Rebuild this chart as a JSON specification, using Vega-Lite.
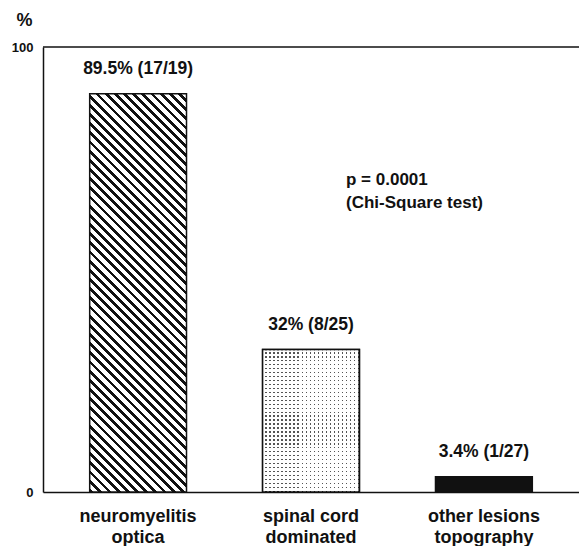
{
  "$schema": "https://vega.github.io/schema/vega-lite/v6.json",
  "width": 536,
  "height": 445,
  "autosize": "none",
  "padding": {"left": 43, "top": 47, "right": 0, "bottom": 54},
  "background": "white",
  "config": {"view": {"stroke": null}, "font": "Liberation Sans"},
  "data": {"values": [
    {"group": "neuromyelitis optica", "pct": 89.5, "label": "89.5% (17/19)"},
    {"group": "spinal cord dominated", "pct": 32, "label": "32% (8/25)"},
    {"group": "other lesions topography", "pct": 3.4, "label": "3.4% (1/27)"}
  ]},
  "layer": [
    {
      "transform": [{"filter": "datum.group === 'other lesions topography'"}],
      "mark": {"type": "bar", "stroke": "#111", "strokeWidth": 1.5, "fill": "#111"},
      "encoding": {
        "x": {"field": "group", "type": "nominal", "sort": ["neuromyelitis optica", "spinal cord dominated", "other lesions topography"],
          "scale": {"domain": ["neuromyelitis optica", "spinal cord dominated", "other lesions topography"], "paddingInner": 0.44, "paddingOuter": 0.27},
          "axis": {"title": null, "labelAngle": 0, "ticks": false, "domainColor": "#111", "domainWidth": 1.5,
            "labelFontSize": 18, "labelFontWeight": "bold", "labelColor": "#111", "labelPadding": 15, "labelLineHeight": 21, "labelLimit": 0,
            "labelExpr": "[substring(datum.label, 0, lastindexof(datum.label, ' ')), substring(datum.label, lastindexof(datum.label, ' ') + 1)]"}},
        "y": {"field": "pct", "type": "quantitative", "scale": {"domain": [0, 100], "nice": false},
          "axis": {"values": [0, 100], "title": "%", "titleAngle": 0, "titleX": -19, "titleY": -27, "titleAlign": "center", "titleBaseline": "middle",
            "titleFontSize": 18, "titleFontWeight": "bold", "titleColor": "#111", "ticks": false, "grid": false,
            "labelFontSize": 13, "labelFontWeight": "bold", "labelColor": "#111", "labelPadding": 10, "domainColor": "#111", "domainWidth": 1.5}}
      }
    },
    {
      "transform": [{"filter": "datum.group === 'spinal cord dominated'"}],
      "mark": {"type": "bar", "stroke": "#111", "strokeWidth": 1.5,
        "fill": {"gradient": "linear", "x1": 0, "y1": 0, "x2": 0, "y2": 1, "stops": [
          {"offset": 0, "color": "#fff"}, {"offset": 0.0181, "color": "#fff"}, {"offset": 0.0181, "color": "#555"}, {"offset": 0.0278, "color": "#555"},
          {"offset": 0.0278, "color": "#fff"}, {"offset": 0.0458, "color": "#fff"}, {"offset": 0.0458, "color": "#555"}, {"offset": 0.0556, "color": "#555"},
          {"offset": 0.0556, "color": "#fff"}, {"offset": 0.0736, "color": "#fff"}, {"offset": 0.0736, "color": "#555"}, {"offset": 0.0833, "color": "#555"},
          {"offset": 0.0833, "color": "#fff"}, {"offset": 0.1014, "color": "#fff"}, {"offset": 0.1014, "color": "#555"}, {"offset": 0.1111, "color": "#555"},
          {"offset": 0.1111, "color": "#fff"}, {"offset": 0.1292, "color": "#fff"}, {"offset": 0.1292, "color": "#555"}, {"offset": 0.1389, "color": "#555"},
          {"offset": 0.1389, "color": "#fff"}, {"offset": 0.1569, "color": "#fff"}, {"offset": 0.1569, "color": "#555"}, {"offset": 0.1667, "color": "#555"},
          {"offset": 0.1667, "color": "#fff"}, {"offset": 0.1847, "color": "#fff"}, {"offset": 0.1847, "color": "#555"}, {"offset": 0.1944, "color": "#555"},
          {"offset": 0.1944, "color": "#fff"}, {"offset": 0.2125, "color": "#fff"}, {"offset": 0.2125, "color": "#555"}, {"offset": 0.2222, "color": "#555"},
          {"offset": 0.2222, "color": "#fff"}, {"offset": 0.2403, "color": "#fff"}, {"offset": 0.2403, "color": "#555"}, {"offset": 0.2500, "color": "#555"},
          {"offset": 0.2500, "color": "#fff"}, {"offset": 0.2681, "color": "#fff"}, {"offset": 0.2681, "color": "#555"}, {"offset": 0.2778, "color": "#555"},
          {"offset": 0.2778, "color": "#fff"}, {"offset": 0.2958, "color": "#fff"}, {"offset": 0.2958, "color": "#555"}, {"offset": 0.3056, "color": "#555"},
          {"offset": 0.3056, "color": "#fff"}, {"offset": 0.3236, "color": "#fff"}, {"offset": 0.3236, "color": "#555"}, {"offset": 0.3333, "color": "#555"},
          {"offset": 0.3333, "color": "#fff"}, {"offset": 0.3514, "color": "#fff"}, {"offset": 0.3514, "color": "#555"}, {"offset": 0.3611, "color": "#555"},
          {"offset": 0.3611, "color": "#fff"}, {"offset": 0.3792, "color": "#fff"}, {"offset": 0.3792, "color": "#555"}, {"offset": 0.3889, "color": "#555"},
          {"offset": 0.3889, "color": "#fff"}, {"offset": 0.4069, "color": "#fff"}, {"offset": 0.4069, "color": "#555"}, {"offset": 0.4167, "color": "#555"},
          {"offset": 0.4167, "color": "#fff"}, {"offset": 0.4347, "color": "#fff"}, {"offset": 0.4347, "color": "#555"}, {"offset": 0.4444, "color": "#555"},
          {"offset": 0.4444, "color": "#fff"}, {"offset": 0.4625, "color": "#fff"}, {"offset": 0.4625, "color": "#555"}, {"offset": 0.4722, "color": "#555"},
          {"offset": 0.4722, "color": "#fff"}, {"offset": 0.4903, "color": "#fff"}, {"offset": 0.4903, "color": "#555"}, {"offset": 0.5000, "color": "#555"},
          {"offset": 0.5000, "color": "#fff"}, {"offset": 0.5181, "color": "#fff"}, {"offset": 0.5181, "color": "#555"}, {"offset": 0.5278, "color": "#555"},
          {"offset": 0.5278, "color": "#fff"}, {"offset": 0.5458, "color": "#fff"}, {"offset": 0.5458, "color": "#555"}, {"offset": 0.5556, "color": "#555"},
          {"offset": 0.5556, "color": "#fff"}, {"offset": 0.5736, "color": "#fff"}, {"offset": 0.5736, "color": "#555"}, {"offset": 0.5833, "color": "#555"},
          {"offset": 0.5833, "color": "#fff"}, {"offset": 0.6014, "color": "#fff"}, {"offset": 0.6014, "color": "#555"}, {"offset": 0.6111, "color": "#555"},
          {"offset": 0.6111, "color": "#fff"}, {"offset": 0.6292, "color": "#fff"}, {"offset": 0.6292, "color": "#555"}, {"offset": 0.6389, "color": "#555"},
          {"offset": 0.6389, "color": "#fff"}, {"offset": 0.6569, "color": "#fff"}, {"offset": 0.6569, "color": "#555"}, {"offset": 0.6667, "color": "#555"},
          {"offset": 0.6667, "color": "#fff"}, {"offset": 0.6847, "color": "#fff"}, {"offset": 0.6847, "color": "#555"}, {"offset": 0.6944, "color": "#555"},
          {"offset": 0.6944, "color": "#fff"}, {"offset": 0.7125, "color": "#fff"}, {"offset": 0.7125, "color": "#555"}, {"offset": 0.7222, "color": "#555"},
          {"offset": 0.7222, "color": "#fff"}, {"offset": 0.7403, "color": "#fff"}, {"offset": 0.7403, "color": "#555"}, {"offset": 0.7500, "color": "#555"},
          {"offset": 0.7500, "color": "#fff"}, {"offset": 0.7681, "color": "#fff"}, {"offset": 0.7681, "color": "#555"}, {"offset": 0.7778, "color": "#555"},
          {"offset": 0.7778, "color": "#fff"}, {"offset": 0.7958, "color": "#fff"}, {"offset": 0.7958, "color": "#555"}, {"offset": 0.8056, "color": "#555"},
          {"offset": 0.8056, "color": "#fff"}, {"offset": 0.8236, "color": "#fff"}, {"offset": 0.8236, "color": "#555"}, {"offset": 0.8333, "color": "#555"},
          {"offset": 0.8333, "color": "#fff"}, {"offset": 0.8514, "color": "#fff"}, {"offset": 0.8514, "color": "#555"}, {"offset": 0.8611, "color": "#555"},
          {"offset": 0.8611, "color": "#fff"}, {"offset": 0.8792, "color": "#fff"}, {"offset": 0.8792, "color": "#555"}, {"offset": 0.8889, "color": "#555"},
          {"offset": 0.8889, "color": "#fff"}, {"offset": 0.9069, "color": "#fff"}, {"offset": 0.9069, "color": "#555"}, {"offset": 0.9167, "color": "#555"},
          {"offset": 0.9167, "color": "#fff"}, {"offset": 0.9347, "color": "#fff"}, {"offset": 0.9347, "color": "#555"}, {"offset": 0.9444, "color": "#555"},
          {"offset": 0.9444, "color": "#fff"}, {"offset": 0.9625, "color": "#fff"}, {"offset": 0.9625, "color": "#555"}, {"offset": 0.9722, "color": "#555"},
          {"offset": 0.9722, "color": "#fff"}, {"offset": 0.9903, "color": "#fff"}, {"offset": 0.9903, "color": "#555"}, {"offset": 1, "color": "#555"}
        ]}},
      "encoding": {
        "x": {"field": "group", "type": "nominal", "sort": ["neuromyelitis optica", "spinal cord dominated", "other lesions topography"]},
        "y": {"field": "pct", "type": "quantitative"}
      }
    },
    {
      "transform": [{"filter": "datum.group === 'spinal cord dominated'"}],
      "mark": {"type": "bar", "stroke": "#111", "strokeWidth": 1.5,
        "fill": {"gradient": "linear", "x1": 0, "y1": 0, "x2": 1, "y2": 0, "stops": [
          {"offset": 0, "color": "#fff"}, {"offset": 0.0271, "color": "#fff"}, {"offset": 0.0271, "color": "rgba(255,255,255,0)"}, {"offset": 0.0417, "color": "rgba(255,255,255,0)"},
          {"offset": 0.0417, "color": "#fff"}, {"offset": 0.0688, "color": "#fff"}, {"offset": 0.0688, "color": "rgba(255,255,255,0)"}, {"offset": 0.0833, "color": "rgba(255,255,255,0)"},
          {"offset": 0.0833, "color": "#fff"}, {"offset": 0.1104, "color": "#fff"}, {"offset": 0.1104, "color": "rgba(255,255,255,0)"}, {"offset": 0.1250, "color": "rgba(255,255,255,0)"},
          {"offset": 0.1250, "color": "#fff"}, {"offset": 0.1521, "color": "#fff"}, {"offset": 0.1521, "color": "rgba(255,255,255,0)"}, {"offset": 0.1667, "color": "rgba(255,255,255,0)"},
          {"offset": 0.1667, "color": "#fff"}, {"offset": 0.1938, "color": "#fff"}, {"offset": 0.1938, "color": "rgba(255,255,255,0)"}, {"offset": 0.2083, "color": "rgba(255,255,255,0)"},
          {"offset": 0.2083, "color": "#fff"}, {"offset": 0.2354, "color": "#fff"}, {"offset": 0.2354, "color": "rgba(255,255,255,0)"}, {"offset": 0.2500, "color": "rgba(255,255,255,0)"},
          {"offset": 0.2500, "color": "#fff"}, {"offset": 0.2771, "color": "#fff"}, {"offset": 0.2771, "color": "rgba(255,255,255,0)"}, {"offset": 0.2917, "color": "rgba(255,255,255,0)"},
          {"offset": 0.2917, "color": "#fff"}, {"offset": 0.3188, "color": "#fff"}, {"offset": 0.3188, "color": "rgba(255,255,255,0)"}, {"offset": 0.3333, "color": "rgba(255,255,255,0)"},
          {"offset": 0.3333, "color": "#fff"}, {"offset": 0.3604, "color": "#fff"}, {"offset": 0.3604, "color": "rgba(255,255,255,0)"}, {"offset": 0.3750, "color": "rgba(255,255,255,0)"},
          {"offset": 0.3750, "color": "#fff"}, {"offset": 0.4021, "color": "#fff"}, {"offset": 0.4021, "color": "rgba(255,255,255,0)"}, {"offset": 0.4167, "color": "rgba(255,255,255,0)"},
          {"offset": 0.4167, "color": "#fff"}, {"offset": 0.4438, "color": "#fff"}, {"offset": 0.4438, "color": "rgba(255,255,255,0)"}, {"offset": 0.4583, "color": "rgba(255,255,255,0)"},
          {"offset": 0.4583, "color": "#fff"}, {"offset": 0.4854, "color": "#fff"}, {"offset": 0.4854, "color": "rgba(255,255,255,0)"}, {"offset": 0.5000, "color": "rgba(255,255,255,0)"},
          {"offset": 0.5000, "color": "#fff"}, {"offset": 0.5271, "color": "#fff"}, {"offset": 0.5271, "color": "rgba(255,255,255,0)"}, {"offset": 0.5417, "color": "rgba(255,255,255,0)"},
          {"offset": 0.5417, "color": "#fff"}, {"offset": 0.5688, "color": "#fff"}, {"offset": 0.5688, "color": "rgba(255,255,255,0)"}, {"offset": 0.5833, "color": "rgba(255,255,255,0)"},
          {"offset": 0.5833, "color": "#fff"}, {"offset": 0.6104, "color": "#fff"}, {"offset": 0.6104, "color": "rgba(255,255,255,0)"}, {"offset": 0.6250, "color": "rgba(255,255,255,0)"},
          {"offset": 0.6250, "color": "#fff"}, {"offset": 0.6521, "color": "#fff"}, {"offset": 0.6521, "color": "rgba(255,255,255,0)"}, {"offset": 0.6667, "color": "rgba(255,255,255,0)"},
          {"offset": 0.6667, "color": "#fff"}, {"offset": 0.6938, "color": "#fff"}, {"offset": 0.6938, "color": "rgba(255,255,255,0)"}, {"offset": 0.7083, "color": "rgba(255,255,255,0)"},
          {"offset": 0.7083, "color": "#fff"}, {"offset": 0.7354, "color": "#fff"}, {"offset": 0.7354, "color": "rgba(255,255,255,0)"}, {"offset": 0.7500, "color": "rgba(255,255,255,0)"},
          {"offset": 0.7500, "color": "#fff"}, {"offset": 0.7771, "color": "#fff"}, {"offset": 0.7771, "color": "rgba(255,255,255,0)"}, {"offset": 0.7917, "color": "rgba(255,255,255,0)"},
          {"offset": 0.7917, "color": "#fff"}, {"offset": 0.8188, "color": "#fff"}, {"offset": 0.8188, "color": "rgba(255,255,255,0)"}, {"offset": 0.8333, "color": "rgba(255,255,255,0)"},
          {"offset": 0.8333, "color": "#fff"}, {"offset": 0.8604, "color": "#fff"}, {"offset": 0.8604, "color": "rgba(255,255,255,0)"}, {"offset": 0.8750, "color": "rgba(255,255,255,0)"},
          {"offset": 0.8750, "color": "#fff"}, {"offset": 0.9021, "color": "#fff"}, {"offset": 0.9021, "color": "rgba(255,255,255,0)"}, {"offset": 0.9167, "color": "rgba(255,255,255,0)"},
          {"offset": 0.9167, "color": "#fff"}, {"offset": 0.9438, "color": "#fff"}, {"offset": 0.9438, "color": "rgba(255,255,255,0)"}, {"offset": 0.9583, "color": "rgba(255,255,255,0)"},
          {"offset": 0.9583, "color": "#fff"}, {"offset": 0.9854, "color": "#fff"}, {"offset": 0.9854, "color": "rgba(255,255,255,0)"}, {"offset": 1, "color": "rgba(255,255,255,0)"}
        ]}},
      "encoding": {
        "x": {"field": "group", "type": "nominal", "sort": ["neuromyelitis optica", "spinal cord dominated", "other lesions topography"]},
        "y": {"field": "pct", "type": "quantitative"}
      }
    },
    {
      "transform": [{"filter": "datum.group === 'neuromyelitis optica'"}],
      "mark": {"type": "bar", "stroke": "#111", "strokeWidth": 1.5,
        "fill": {"gradient": "linear", "x1": 0, "y1": 1, "x2": 0.2853, "y2": -0.1737, "stops": [
          {"offset": 0, "color": "#111"}, {"offset": 0.0078, "color": "#111"}, {"offset": 0.0078, "color": "#fff"}, {"offset": 0.0185, "color": "#fff"},
          {"offset": 0.0185, "color": "#111"}, {"offset": 0.0263, "color": "#111"}, {"offset": 0.0263, "color": "#fff"}, {"offset": 0.0370, "color": "#fff"},
          {"offset": 0.0370, "color": "#111"}, {"offset": 0.0448, "color": "#111"}, {"offset": 0.0448, "color": "#fff"}, {"offset": 0.0556, "color": "#fff"},
          {"offset": 0.0556, "color": "#111"}, {"offset": 0.0633, "color": "#111"}, {"offset": 0.0633, "color": "#fff"}, {"offset": 0.0741, "color": "#fff"},
          {"offset": 0.0741, "color": "#111"}, {"offset": 0.0819, "color": "#111"}, {"offset": 0.0819, "color": "#fff"}, {"offset": 0.0926, "color": "#fff"},
          {"offset": 0.0926, "color": "#111"}, {"offset": 0.1004, "color": "#111"}, {"offset": 0.1004, "color": "#fff"}, {"offset": 0.1111, "color": "#fff"},
          {"offset": 0.1111, "color": "#111"}, {"offset": 0.1189, "color": "#111"}, {"offset": 0.1189, "color": "#fff"}, {"offset": 0.1296, "color": "#fff"},
          {"offset": 0.1296, "color": "#111"}, {"offset": 0.1374, "color": "#111"}, {"offset": 0.1374, "color": "#fff"}, {"offset": 0.1481, "color": "#fff"},
          {"offset": 0.1481, "color": "#111"}, {"offset": 0.1559, "color": "#111"}, {"offset": 0.1559, "color": "#fff"}, {"offset": 0.1667, "color": "#fff"},
          {"offset": 0.1667, "color": "#111"}, {"offset": 0.1744, "color": "#111"}, {"offset": 0.1744, "color": "#fff"}, {"offset": 0.1852, "color": "#fff"},
          {"offset": 0.1852, "color": "#111"}, {"offset": 0.1930, "color": "#111"}, {"offset": 0.1930, "color": "#fff"}, {"offset": 0.2037, "color": "#fff"},
          {"offset": 0.2037, "color": "#111"}, {"offset": 0.2115, "color": "#111"}, {"offset": 0.2115, "color": "#fff"}, {"offset": 0.2222, "color": "#fff"},
          {"offset": 0.2222, "color": "#111"}, {"offset": 0.2300, "color": "#111"}, {"offset": 0.2300, "color": "#fff"}, {"offset": 0.2407, "color": "#fff"},
          {"offset": 0.2407, "color": "#111"}, {"offset": 0.2485, "color": "#111"}, {"offset": 0.2485, "color": "#fff"}, {"offset": 0.2593, "color": "#fff"},
          {"offset": 0.2593, "color": "#111"}, {"offset": 0.2670, "color": "#111"}, {"offset": 0.2670, "color": "#fff"}, {"offset": 0.2778, "color": "#fff"},
          {"offset": 0.2778, "color": "#111"}, {"offset": 0.2856, "color": "#111"}, {"offset": 0.2856, "color": "#fff"}, {"offset": 0.2963, "color": "#fff"},
          {"offset": 0.2963, "color": "#111"}, {"offset": 0.3041, "color": "#111"}, {"offset": 0.3041, "color": "#fff"}, {"offset": 0.3148, "color": "#fff"},
          {"offset": 0.3148, "color": "#111"}, {"offset": 0.3226, "color": "#111"}, {"offset": 0.3226, "color": "#fff"}, {"offset": 0.3333, "color": "#fff"},
          {"offset": 0.3333, "color": "#111"}, {"offset": 0.3411, "color": "#111"}, {"offset": 0.3411, "color": "#fff"}, {"offset": 0.3519, "color": "#fff"},
          {"offset": 0.3519, "color": "#111"}, {"offset": 0.3596, "color": "#111"}, {"offset": 0.3596, "color": "#fff"}, {"offset": 0.3704, "color": "#fff"},
          {"offset": 0.3704, "color": "#111"}, {"offset": 0.3781, "color": "#111"}, {"offset": 0.3781, "color": "#fff"}, {"offset": 0.3889, "color": "#fff"},
          {"offset": 0.3889, "color": "#111"}, {"offset": 0.3967, "color": "#111"}, {"offset": 0.3967, "color": "#fff"}, {"offset": 0.4074, "color": "#fff"},
          {"offset": 0.4074, "color": "#111"}, {"offset": 0.4152, "color": "#111"}, {"offset": 0.4152, "color": "#fff"}, {"offset": 0.4259, "color": "#fff"},
          {"offset": 0.4259, "color": "#111"}, {"offset": 0.4337, "color": "#111"}, {"offset": 0.4337, "color": "#fff"}, {"offset": 0.4444, "color": "#fff"},
          {"offset": 0.4444, "color": "#111"}, {"offset": 0.4522, "color": "#111"}, {"offset": 0.4522, "color": "#fff"}, {"offset": 0.4630, "color": "#fff"},
          {"offset": 0.4630, "color": "#111"}, {"offset": 0.4707, "color": "#111"}, {"offset": 0.4707, "color": "#fff"}, {"offset": 0.4815, "color": "#fff"},
          {"offset": 0.4815, "color": "#111"}, {"offset": 0.4893, "color": "#111"}, {"offset": 0.4893, "color": "#fff"}, {"offset": 0.5000, "color": "#fff"},
          {"offset": 0.5000, "color": "#111"}, {"offset": 0.5078, "color": "#111"}, {"offset": 0.5078, "color": "#fff"}, {"offset": 0.5185, "color": "#fff"},
          {"offset": 0.5185, "color": "#111"}, {"offset": 0.5263, "color": "#111"}, {"offset": 0.5263, "color": "#fff"}, {"offset": 0.5370, "color": "#fff"},
          {"offset": 0.5370, "color": "#111"}, {"offset": 0.5448, "color": "#111"}, {"offset": 0.5448, "color": "#fff"}, {"offset": 0.5556, "color": "#fff"},
          {"offset": 0.5556, "color": "#111"}, {"offset": 0.5633, "color": "#111"}, {"offset": 0.5633, "color": "#fff"}, {"offset": 0.5741, "color": "#fff"},
          {"offset": 0.5741, "color": "#111"}, {"offset": 0.5819, "color": "#111"}, {"offset": 0.5819, "color": "#fff"}, {"offset": 0.5926, "color": "#fff"},
          {"offset": 0.5926, "color": "#111"}, {"offset": 0.6004, "color": "#111"}, {"offset": 0.6004, "color": "#fff"}, {"offset": 0.6111, "color": "#fff"},
          {"offset": 0.6111, "color": "#111"}, {"offset": 0.6189, "color": "#111"}, {"offset": 0.6189, "color": "#fff"}, {"offset": 0.6296, "color": "#fff"},
          {"offset": 0.6296, "color": "#111"}, {"offset": 0.6374, "color": "#111"}, {"offset": 0.6374, "color": "#fff"}, {"offset": 0.6481, "color": "#fff"},
          {"offset": 0.6481, "color": "#111"}, {"offset": 0.6559, "color": "#111"}, {"offset": 0.6559, "color": "#fff"}, {"offset": 0.6667, "color": "#fff"},
          {"offset": 0.6667, "color": "#111"}, {"offset": 0.6744, "color": "#111"}, {"offset": 0.6744, "color": "#fff"}, {"offset": 0.6852, "color": "#fff"},
          {"offset": 0.6852, "color": "#111"}, {"offset": 0.6930, "color": "#111"}, {"offset": 0.6930, "color": "#fff"}, {"offset": 0.7037, "color": "#fff"},
          {"offset": 0.7037, "color": "#111"}, {"offset": 0.7115, "color": "#111"}, {"offset": 0.7115, "color": "#fff"}, {"offset": 0.7222, "color": "#fff"},
          {"offset": 0.7222, "color": "#111"}, {"offset": 0.7300, "color": "#111"}, {"offset": 0.7300, "color": "#fff"}, {"offset": 0.7407, "color": "#fff"},
          {"offset": 0.7407, "color": "#111"}, {"offset": 0.7485, "color": "#111"}, {"offset": 0.7485, "color": "#fff"}, {"offset": 0.7593, "color": "#fff"},
          {"offset": 0.7593, "color": "#111"}, {"offset": 0.7670, "color": "#111"}, {"offset": 0.7670, "color": "#fff"}, {"offset": 0.7778, "color": "#fff"},
          {"offset": 0.7778, "color": "#111"}, {"offset": 0.7856, "color": "#111"}, {"offset": 0.7856, "color": "#fff"}, {"offset": 0.7963, "color": "#fff"},
          {"offset": 0.7963, "color": "#111"}, {"offset": 0.8041, "color": "#111"}, {"offset": 0.8041, "color": "#fff"}, {"offset": 0.8148, "color": "#fff"},
          {"offset": 0.8148, "color": "#111"}, {"offset": 0.8226, "color": "#111"}, {"offset": 0.8226, "color": "#fff"}, {"offset": 0.8333, "color": "#fff"},
          {"offset": 0.8333, "color": "#111"}, {"offset": 0.8411, "color": "#111"}, {"offset": 0.8411, "color": "#fff"}, {"offset": 0.8519, "color": "#fff"},
          {"offset": 0.8519, "color": "#111"}, {"offset": 0.8596, "color": "#111"}, {"offset": 0.8596, "color": "#fff"}, {"offset": 0.8704, "color": "#fff"},
          {"offset": 0.8704, "color": "#111"}, {"offset": 0.8781, "color": "#111"}, {"offset": 0.8781, "color": "#fff"}, {"offset": 0.8889, "color": "#fff"},
          {"offset": 0.8889, "color": "#111"}, {"offset": 0.8967, "color": "#111"}, {"offset": 0.8967, "color": "#fff"}, {"offset": 0.9074, "color": "#fff"},
          {"offset": 0.9074, "color": "#111"}, {"offset": 0.9152, "color": "#111"}, {"offset": 0.9152, "color": "#fff"}, {"offset": 0.9259, "color": "#fff"},
          {"offset": 0.9259, "color": "#111"}, {"offset": 0.9337, "color": "#111"}, {"offset": 0.9337, "color": "#fff"}, {"offset": 0.9444, "color": "#fff"},
          {"offset": 0.9444, "color": "#111"}, {"offset": 0.9522, "color": "#111"}, {"offset": 0.9522, "color": "#fff"}, {"offset": 0.9630, "color": "#fff"},
          {"offset": 0.9630, "color": "#111"}, {"offset": 0.9707, "color": "#111"}, {"offset": 0.9707, "color": "#fff"}, {"offset": 0.9815, "color": "#fff"},
          {"offset": 0.9815, "color": "#111"}, {"offset": 0.9893, "color": "#111"}, {"offset": 0.9893, "color": "#fff"}, {"offset": 1, "color": "#fff"}
        ]}},
      "encoding": {
        "x": {"field": "group", "type": "nominal", "sort": ["neuromyelitis optica", "spinal cord dominated", "other lesions topography"]},
        "y": {"field": "pct", "type": "quantitative"}
      }
    },
    {
      "mark": {"type": "text", "fontSize": 17.5, "fontWeight": "bold", "color": "#111", "baseline": "middle", "align": "center", "dy": -25},
      "encoding": {
        "x": {"field": "group", "type": "nominal", "sort": ["neuromyelitis optica", "spinal cord dominated", "other lesions topography"]},
        "y": {"field": "pct", "type": "quantitative"},
        "text": {"field": "label"}
      }
    },
    {
      "data": {"values": [{"note": "p = 0.0001", "test": "(Chi-Square test)"}]},
      "mark": {"type": "text", "fontSize": 17, "fontWeight": "bold", "color": "#111", "baseline": "top", "align": "left", "dx": 35, "lineHeight": 23},
      "encoding": {
        "x": {"datum": "spinal cord dominated", "type": "nominal"},
        "y": {"datum": 71.8, "type": "quantitative"},
        "text": {"value": ["p = 0.0001", "(Chi-Square test)"]}
      }
    },
    {
      "data": {"values": [{"level": 100}]},
      "mark": {"type": "rule", "color": "#111", "strokeWidth": 1.5},
      "encoding": {"y": {"field": "level", "type": "quantitative"}}
    }
  ]
}
